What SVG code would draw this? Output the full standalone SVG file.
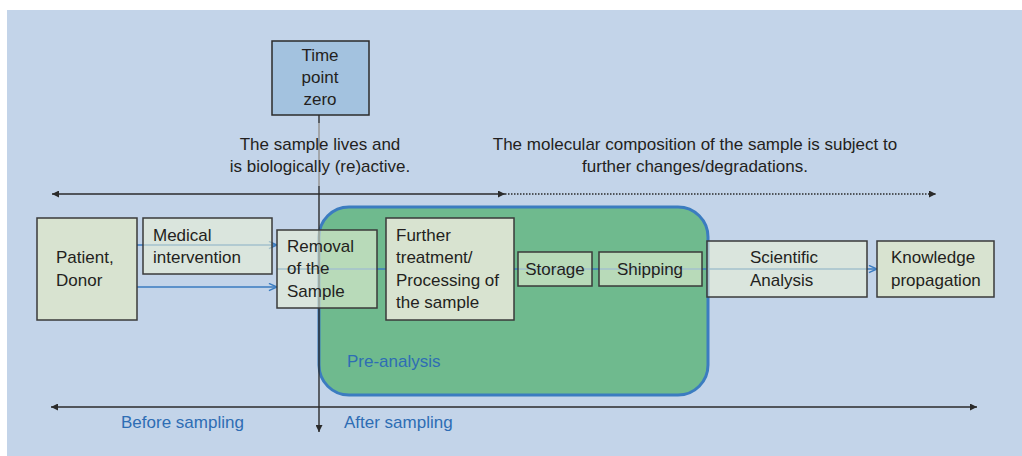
<svg xmlns="http://www.w3.org/2000/svg" width="1022" height="456" viewBox="0 0 1022 456">
<defs>
<style>
.t{font-family:"Liberation Sans",Arial,sans-serif;font-size:17px;fill:#231f20}
.b{font-family:"Liberation Sans",Arial,sans-serif;font-size:17px;fill:#2e6db4}
.box{fill:#e9f0d6;fill-opacity:0.6;stroke:#3a3a3a;stroke-width:1.5}
.opq{fill:#d8e3d0;stroke:#3a3a3a;stroke-width:1.5}
.blue{stroke:#3a7bbf;stroke-width:1.5;fill:none}
.axis{stroke:#2b2b2b;stroke-width:1.4;fill:none}
</style>
<marker id="fa" viewBox="0 0 10 10" refX="10" refY="5" markerWidth="7" markerHeight="7" markerUnits="userSpaceOnUse" orient="auto-start-reverse">
<path d="M0,0 L10,5 L0,10 z" fill="#2b2b2b"/>
</marker>
<marker id="oa" viewBox="0 0 10 10" refX="10" refY="5" markerWidth="9" markerHeight="9" markerUnits="userSpaceOnUse" orient="auto">
<path d="M1,1 L10,5 L1,9" fill="none" stroke="#3a7bbf" stroke-width="1.6"/>
</marker>
</defs>
<rect x="0" y="0" width="1022" height="456" fill="#ffffff"/>
<rect x="7" y="10" width="1015" height="446" fill="#c3d4e9"/>

<g id="pre-analysis">
<rect x="319" y="207" width="389" height="188" rx="30" ry="30" fill="#6fba8e" stroke="#3b7cc0" stroke-width="3"/>
<text class="b" x="347" y="367">Pre-analysis</text>
</g>

<g id="connectors">
<line class="axis" x1="52" y1="194" x2="505" y2="194" marker-start="url(#fa)" marker-end="url(#fa)"/>
<line class="axis" x1="505" y1="194" x2="936" y2="194" stroke-dasharray="1.5,1.5" marker-end="url(#fa)"/>
<line class="axis" x1="51" y1="407" x2="977" y2="407" marker-start="url(#fa)" marker-end="url(#fa)"/>
<line class="axis" x1="319" y1="115" x2="319" y2="123"/>
<line x1="319" y1="123" x2="319" y2="186" stroke="#9a9a9a" stroke-width="1.6"/>
<line class="axis" x1="319" y1="186" x2="319" y2="432" marker-end="url(#fa)"/>
<line class="blue" x1="137" y1="245" x2="277" y2="245" marker-end="url(#oa)"/>
<line class="blue" x1="137" y1="287" x2="277" y2="287" marker-end="url(#oa)"/>
<line class="blue" x1="277" y1="269" x2="877" y2="269" marker-end="url(#oa)"/>
</g>

<g id="time-point-zero">
<rect x="272" y="41" width="97" height="74" fill="#a3c2df" stroke="#2b2b2b" stroke-width="1.5"/>
<text class="t" x="320" y="61" text-anchor="middle">Time</text>
<text class="t" x="320" y="83" text-anchor="middle">point</text>
<text class="t" x="320" y="105" text-anchor="middle">zero</text>
</g>

<g id="label-lives">
<text class="t" x="320" y="150" text-anchor="middle">The sample lives and</text>
<text class="t" x="320" y="172" text-anchor="middle">is biologically (re)active.</text>
</g>
<g id="label-molecular">
<text class="t" x="695" y="150" text-anchor="middle">The molecular composition of the sample is subject to</text>
<text class="t" x="695" y="172" text-anchor="middle">further changes/degradations.</text>
</g>

<g id="patient">
<rect class="opq" x="37" y="218" width="100" height="102"/>
<text class="t" x="56" y="263">Patient,</text>
<text class="t" x="56" y="286">Donor</text>
</g>
<g id="medical">
<rect class="box" x="143" y="218" width="129" height="56"/>
<text class="t" x="153" y="241">Medical</text>
<text class="t" x="153" y="263">intervention</text>
</g>
<g id="removal">
<rect class="box" x="277" y="230" width="100" height="78"/>
<text class="t" x="287" y="252">Removal</text>
<text class="t" x="287" y="274">of the</text>
<text class="t" x="287" y="297">Sample</text>
</g>
<g id="further">
<rect class="opq" x="386" y="218" width="128" height="102"/>
<text class="t" x="396" y="241">Further</text>
<text class="t" x="396" y="263">treatment/</text>
<text class="t" x="396" y="286">Processing of</text>
<text class="t" x="396" y="308">the sample</text>
</g>
<g id="storage">
<rect class="box" x="518" y="252" width="74" height="34"/>
<text class="t" x="555" y="275" text-anchor="middle">Storage</text>
</g>
<g id="shipping">
<rect class="box" x="599" y="252" width="103" height="34"/>
<text class="t" x="650" y="275" text-anchor="middle">Shipping</text>
</g>
<g id="scientific">
<rect class="box" x="707" y="241" width="160" height="56"/>
<text class="t" x="750" y="263">Scientific</text>
<text class="t" x="750" y="286">Analysis</text>
</g>
<g id="knowledge">
<rect class="opq" x="877" y="241" width="117" height="56"/>
<text class="t" x="891" y="263">Knowledge</text>
<text class="t" x="891" y="286">propagation</text>
</g>

<g id="timeline-labels">
<text class="b" x="121" y="428">Before sampling</text>
<text class="b" x="344" y="428">After sampling</text>
</g>
</svg>
